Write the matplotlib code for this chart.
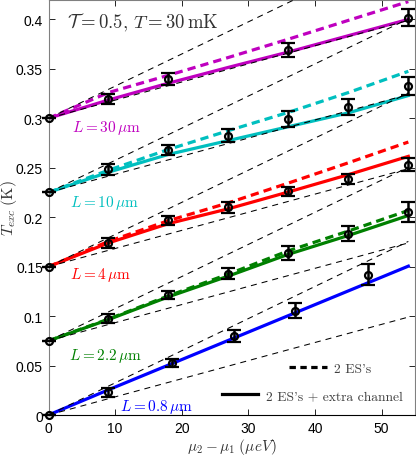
import numpy as np
from matplotlib import pyplot as plt
from matplotlib.lines import Line2D

plt.rcParams['mathtext.fontset'] = 'cm'
plt.rcParams['font.family'] = ['Liberation Sans', 'DejaVu Sans']

# ---------------- data ----------------
lengths = ['30', '10', '4', '2.2', '0.8']
colors = ['#BF00BF', '#00BFBF', '#FF0000', '#008000', '#0000FF']
t_start = [0.3, 0.225, 0.15, 0.075, 0.0]

# theory curves
mu_theory = [0, 9, 18, 27, 36, 45, 54]
solid_30 = [0.300, 0.3185, 0.3355, 0.3515, 0.367, 0.3835, 0.400]
dashed_30 = [0.300, 0.326, 0.3435, 0.3615, 0.380, 0.399, 0.418]
solid_10 = [0.225, 0.2455, 0.2635, 0.2775, 0.2915, 0.3055, 0.323]
dashed_10 = [0.225, 0.2475, 0.2685, 0.2875, 0.306, 0.326, 0.3475]
solid_4 = [0.150, 0.174, 0.1935, 0.2085, 0.2255, 0.243, 0.2615]
dashed_4 = [0.150, 0.1755, 0.1965, 0.2145, 0.2345, 0.255, 0.276]
solid_22 = [0.075, 0.0965, 0.1195, 0.1405, 0.1625, 0.1815, 0.2017]
dashed_22 = [0.075, 0.097, 0.1205, 0.1425, 0.166, 0.186, 0.2068]
solid_08 = [0.0, 0.0255, 0.0505, 0.0755, 0.1005, 0.1255, 0.1505]

solids = [solid_30, solid_10, solid_4, solid_22, solid_08]
dashes = [dashed_30, dashed_10, dashed_4, dashed_22, None]

# black dashed bounds (start at t_start, end at mu = 54)
bound_mu = [0, 54]
upper_end = [0.4755, 0.4005, 0.3255, 0.2505, 0.1755]
lower_end = [0.399, 0.324, 0.249, 0.174, 0.099]

# measured points
mu_30 = [0, 9, 18, 36, 54]
t_30 = [0.300, 0.3198, 0.3394, 0.3694, 0.4015]
err_30 = [0, 0.005, 0.006, 0.007, 0.0086]
mu_10 = [0, 9, 18, 27, 36, 45, 54]
t_10 = [0.225, 0.2483, 0.268, 0.2824, 0.2989, 0.3114, 0.3327]
err_10 = [0, 0.0055, 0.005, 0.0066, 0.008, 0.0084, 0.0093]
mu_4 = [0, 9, 18, 27, 36, 45, 54]
t_4 = [0.150, 0.1738, 0.1967, 0.2102, 0.226, 0.2382, 0.253]
err_4 = [0, 0.005, 0.005, 0.0056, 0.005, 0.005, 0.0067]
mu_22 = [0, 9, 18, 27, 36, 45, 54]
t_22 = [0.075, 0.0972, 0.1215, 0.1427, 0.164, 0.1832, 0.2052]
err_22 = [0, 0.0045, 0.004, 0.0056, 0.007, 0.0076, 0.0098]
mu_08 = [0, 9, 18.6, 27.8, 37, 48]
t_08 = [0.0, 0.023, 0.053, 0.0796, 0.1056, 0.1417]
err_08 = [0, 0.0047, 0.004, 0.006, 0.0078, 0.0106]

points = [(mu_30, t_30, err_30), (mu_10, t_10, err_10), (mu_4, t_4, err_4),
          (mu_22, t_22, err_22), (mu_08, t_08, err_08)]

# label anchor (mu, T)
label_pos = [(3.6, 0.291), (3.3, 0.215), (3.3, 0.143), (3.1, 0.061), (10.7, 0.0094)]

# ---------------- plot ----------------
fig = plt.figure(figsize=(4.16, 4.56), dpi=100)
ax = fig.add_axes([0.1166, 0.0877, 0.881, 0.911])

for i in range(len(lengths)):
    ax.plot(mu_theory, solids[i], color=colors[i], lw=2.3, zorder=2)
    if dashes[i] is not None:
        ax.plot(mu_theory, dashes[i], color=colors[i], lw=2.3,
                dashes=(2.6, 1.6), zorder=2)

for i in range(len(t_start)):
    ax.plot(bound_mu, [t_start[i], upper_end[i]], color='k', lw=0.75,
            dashes=(5.8, 4.8), zorder=3)
    ax.plot(bound_mu, [t_start[i], lower_end[i]], color='k', lw=0.75,
            dashes=(5.8, 4.8), zorder=3)

for mu, t, err in points:
    eb = ax.errorbar(mu, t, yerr=err, fmt='o', ms=5, mfc='none', mec='k',
                     mew=1.6, ecolor='k', elinewidth=1.8, capsize=5,
                     capthick=2, zorder=5)
    for artist in eb.get_children():
        artist.set_clip_on(False)

for i, (x, y) in enumerate(label_pos):
    ax.text(x, y, r'$L = %s\,\mu\mathrm{m}$' % lengths[i], color=colors[i],
            fontsize=11, ha='left', va='center')

ax.text(2.8, 0.3975, r'$\mathcal{T} = 0.5,\, T = 30\,\mathrm{mK}$',
        fontsize=13.5, color='0.2', ha='left', va='center')

ax.set_xlim(0, 55)
ax.set_ylim(0, 0.42)
ax.set_xticks([0, 10, 20, 30, 40, 50])
ax.set_yticks([0, 0.05, 0.1, 0.15, 0.2, 0.25, 0.3, 0.35, 0.4])
ax.set_yticklabels(['0', '0.05', '0.1', '0.15', '0.2', '0.25', '0.3', '0.35', '0.4'])
ax.tick_params(direction='in', length=4, width=0.6, top=True, right=True,
               labelsize=10, colors='k')
ax.tick_params(axis='y', pad=4)
ax.tick_params(axis='x', pad=4)
for side in ['left', 'top', 'right']:
    ax.spines[side].set_color('0.5')
ax.spines['bottom'].set_color('k')

ax.set_xlabel(r'$\mu_2 - \mu_1\;(\mu eV)$', fontsize=11, color='0.2')
ax.set_ylabel(r'$T_{exc}\;(\mathrm{K})$', fontsize=11.5, color='0.2')
ax.xaxis.set_label_coords(0.5, -0.05)
ax.yaxis.set_label_coords(-0.108, 0.5)
ax.xaxis.label.set_va('top')
ax.yaxis.label.set_va('center')

# legends
leg_font = {'family': 'cmr10', 'size': 9.8}
h_dash = Line2D([], [], color='k', lw=2.3, dashes=(2.0, 1.4))
h_solid = Line2D([], [], color='k', lw=2.3)
leg1 = ax.legend([h_dash], ["2 ES's"], loc='center left',
                 bbox_to_anchor=(0.656, 0.112), frameon=False, prop=leg_font,
                 handlelength=2.8, handletextpad=0.5, borderpad=0,
                 borderaxespad=0)
for t in leg1.get_texts():
    t.set_color('0.25')
ax.add_artist(leg1)
leg2 = ax.legend([h_solid], ["2 ES's + extra channel"], loc='center left',
                 bbox_to_anchor=(0.4726, 0.0464), frameon=False, prop=leg_font,
                 handlelength=2.7, handletextpad=0.55, borderpad=0,
                 borderaxespad=0)
for t in leg2.get_texts():
    t.set_color('0.25')

fig.savefig('out.png', dpi=100)
